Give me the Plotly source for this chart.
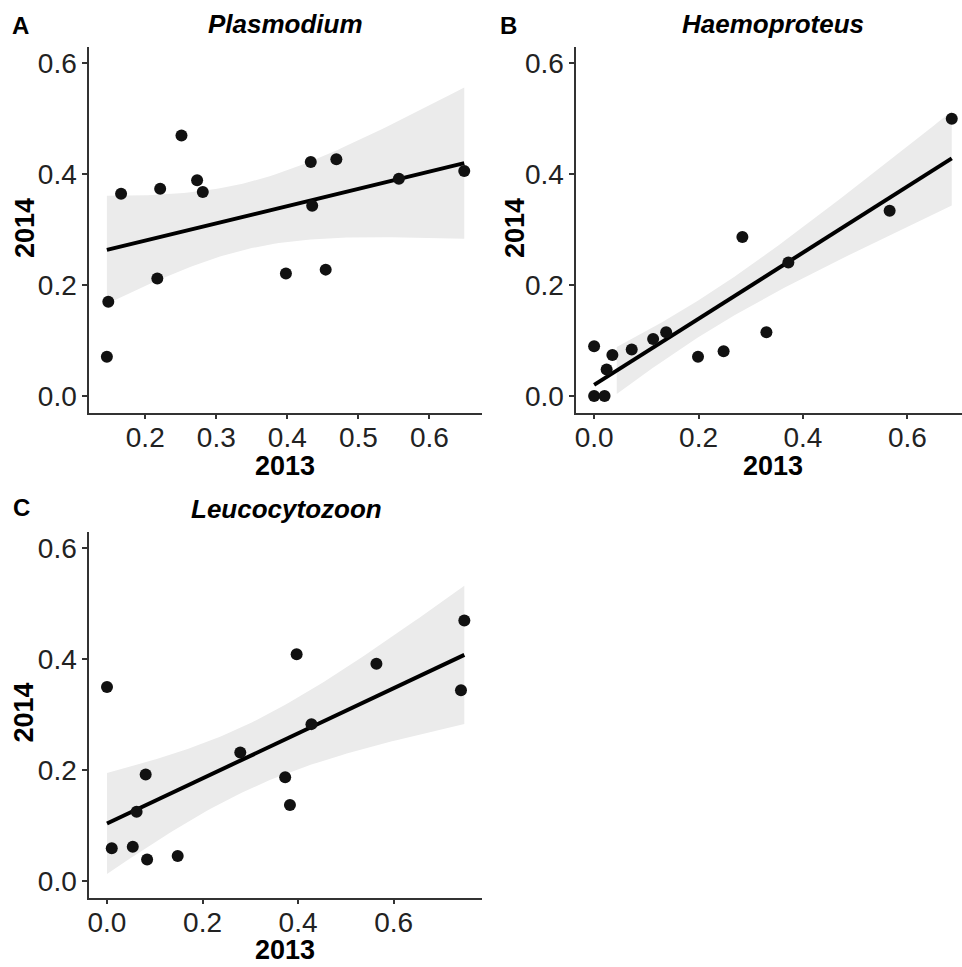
import numpy as np
import plotly.graph_objects as go

# ---------------- data ----------------
plas_2013 = [0.146, 0.148, 0.166, 0.217, 0.221, 0.251, 0.273, 0.281, 0.398, 0.433, 0.435, 0.454, 0.469, 0.557, 0.649]
plas_2014 = [0.071, 0.170, 0.365, 0.212, 0.374, 0.470, 0.389, 0.368, 0.221, 0.422, 0.343, 0.228, 0.427, 0.392, 0.406]

haem_2013 = [0.000, 0.000, 0.020, 0.024, 0.035, 0.072, 0.113, 0.138, 0.199, 0.248, 0.284, 0.330, 0.372, 0.566, 0.685]
haem_2014 = [0.090, 0.000, 0.000, 0.048, 0.074, 0.084, 0.103, 0.115, 0.071, 0.081, 0.287, 0.115, 0.241, 0.334, 0.500]

leuc_2013 = [0.000, 0.010, 0.054, 0.062, 0.081, 0.084, 0.148, 0.279, 0.373, 0.383, 0.397, 0.428, 0.564, 0.741, 0.748]
leuc_2014 = [0.350, 0.059, 0.062, 0.125, 0.192, 0.039, 0.045, 0.232, 0.187, 0.137, 0.409, 0.283, 0.392, 0.344, 0.470]

panel_titles = ["Plasmodium", "Haemoproteus", "Leucocytozoon"]
panel_letters = ["A", "B", "C"]
x_title = "2013"
y_title = "2014"

a_xticks = [0.2, 0.3, 0.4, 0.5, 0.6]
bc_xticks = [0.0, 0.2, 0.4, 0.6]
y_ticks = [0.0, 0.2, 0.4, 0.6]
y_limits = (0.0, 0.6)

# t quantile (0.975) keyed by residual degrees of freedom
T975 = {13: 2.160369}

# ---------------- layout helpers ----------------
W, H = 962, 967


def px(xp):
    return xp / W


def py(yp):
    return 1 - yp / H


def smooth(x, y, npts=80):
    x = np.asarray(x, float)
    y = np.asarray(y, float)
    n = len(x)
    b, a = np.polyfit(x, y, 1)
    resid = y - (a + b * x)
    s = np.sqrt(np.sum(resid ** 2) / (n - 2))
    xbar = x.mean()
    sxx = np.sum((x - xbar) ** 2)
    xs = np.linspace(x.min(), x.max(), npts)
    fit = a + b * xs
    se = s * np.sqrt(1 / n + (xs - xbar) ** 2 / sxx)
    t = T975[n - 2]
    return xs, fit, fit - t * se, fit + t * se


fig = go.Figure()

panels = [
    (plas_2013, plas_2014, "x", "y"),
    (haem_2013, haem_2014, "x2", "y2"),
    (leuc_2013, leuc_2014, "x3", "y3"),
]

for xd, yd, xa, ya in panels:
    xs, fit, lo, hi = smooth(xd, yd)
    mask = (lo >= y_limits[0]) & (hi <= y_limits[1])
    xr = xs[mask]
    fig.add_trace(go.Scatter(
        x=np.concatenate([xr, xr[::-1]]),
        y=np.concatenate([hi[mask], lo[mask][::-1]]),
        fill="toself", fillcolor="#EBEBEB", line=dict(width=0),
        mode="lines", hoverinfo="skip", xaxis=xa, yaxis=ya))
    fig.add_trace(go.Scatter(
        x=xs, y=fit, mode="lines", line=dict(color="black", width=4),
        xaxis=xa, yaxis=ya))
    fig.add_trace(go.Scatter(
        x=xd, y=yd, mode="markers", cliponaxis=False,
        marker=dict(color="#111111", size=12, line=dict(width=0)),
        xaxis=xa, yaxis=ya))

axis_common = dict(
    showline=True, linecolor="#333333", linewidth=1.5,
    ticks="outside", ticklen=5, tickwidth=1.5, tickcolor="#333333",
    showgrid=False, zeroline=False, tickformat=".1f",
    tickfont=dict(family="Liberation Sans, Arial, sans-serif", size=28, color="#222222"),
)

xaxis_common = dict(axis_common, ticklabelstandoff=-6)
yaxis_common = dict(axis_common, range=[-0.03, 0.63], tickvals=y_ticks)

fig.update_layout(
    width=W, height=H,
    margin=dict(l=0, r=0, t=0, b=0),
    paper_bgcolor="white", plot_bgcolor="white",
    showlegend=False,
    xaxis=dict(xaxis_common, domain=[px(87.3), px(481)], range=[0.121, 0.674],
               tickvals=a_xticks, anchor="y"),
    yaxis=dict(yaxis_common, domain=[py(412.7), py(46.7)], anchor="x"),
    xaxis2=dict(xaxis_common, domain=[px(575.4), 1.0], range=[-0.0343, 0.7046],
                tickvals=bc_xticks, anchor="y2"),
    yaxis2=dict(yaxis_common, domain=[py(412.7), py(46.7)], anchor="x2"),
    xaxis3=dict(xaxis_common, domain=[px(87.3), px(481)], range=[-0.0374, 0.785],
                tickvals=bc_xticks, anchor="y3"),
    yaxis3=dict(yaxis_common, domain=[py(897.7), py(531.7)], anchor="x3"),
)

FONT = "Liberation Sans, Arial, sans-serif"
ann = []
letter_pos = [(19, 25), (508, 25), (20, 507)]
title_pos = [(284, 24), (773, 24), (285, 509)]
xt_pos = [(284, 466), (773, 466), (284, 950)]
yt_pos = [(23, 228), (514, 228), (22.5, 712)]

for i in range(3):
    ann.append(dict(x=px(letter_pos[i][0]), y=py(letter_pos[i][1]), xref="paper", yref="paper",
                    text="<b>%s</b>" % panel_letters[i], showarrow=False,
                    font=dict(family=FONT, size=24, color="black"),
                    xanchor="center", yanchor="middle"))
    ann.append(dict(x=px(title_pos[i][0]), y=py(title_pos[i][1]), xref="paper", yref="paper",
                    text="<b><i>%s</i></b>" % panel_titles[i], showarrow=False,
                    font=dict(family=FONT, size=26, color="black"),
                    xanchor="center", yanchor="middle"))
    ann.append(dict(x=px(xt_pos[i][0]), y=py(xt_pos[i][1]), xref="paper", yref="paper",
                    text="<b>%s</b>" % x_title, showarrow=False,
                    font=dict(family=FONT, size=27, color="black"),
                    xanchor="center", yanchor="middle"))
    ann.append(dict(x=px(yt_pos[i][0]), y=py(yt_pos[i][1]), xref="paper", yref="paper",
                    text="<b>%s</b>" % y_title, showarrow=False, textangle=-90,
                    font=dict(family=FONT, size=27, color="black"),
                    xanchor="center", yanchor="middle"))

fig.update_layout(annotations=ann)

fig.write_html(
    "out.html",
    config={"displayModeBar": False},
    post_script="document.body.style.margin='0px';document.body.style.overflow='hidden';",
)
